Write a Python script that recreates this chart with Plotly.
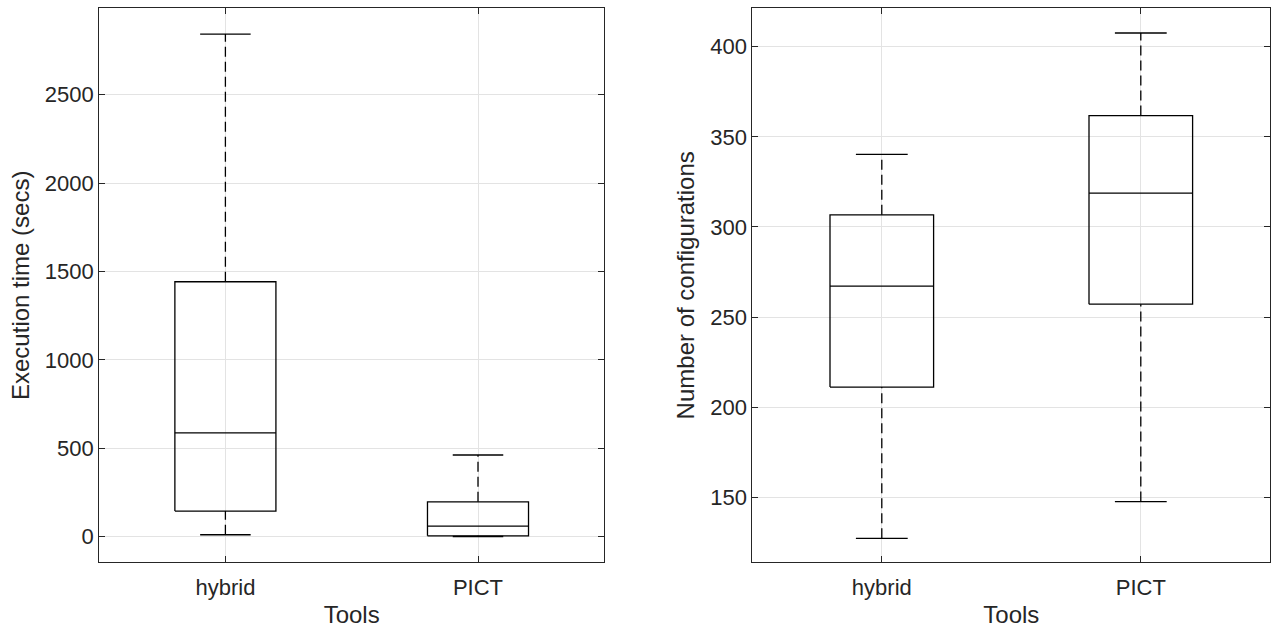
import plotly.graph_objects as go

# ---------------- data ----------------
tools = ["hybrid", "PICT"]

# Execution time (secs)
exec_lower = [11, 1]
exec_q1 = [145, 5]
exec_median = [587, 60]
exec_q3 = [1442, 197]
exec_upper = [2843, 462]

# Number of configurations
conf_lower = [127.2, 147.6]
conf_q1 = [211.1, 257.1]
conf_median = [267.1, 318.8]
conf_q3 = [306.7, 361.8]
conf_upper = [340.2, 407.6]

exec_ticks = [0, 500, 1000, 1500, 2000, 2500]
conf_ticks = [150, 200, 250, 300, 350, 400]

# ---------------- style ----------------
FONT = "Liberation Sans, Arial, Helvetica, sans-serif"
AX = "#262626"
GRID = "#e3e3e3"
BOXC = "#000000"
HALF_BOX = 0.2
HALF_CAP = 0.1
LW = 1.3
DASH = "10px,5px"

fig = go.Figure()


def add_boxes(lower, q1, med, q3, upper, xa, ya):
    for i in range(len(tools)):
        c = i + 1
        # whiskers (dashed)
        fig.add_trace(go.Scatter(x=[c, c], y=[q3[i], upper[i]], mode="lines",
                                 line=dict(color=BOXC, width=LW, dash=DASH),
                                 xaxis=xa, yaxis=ya, showlegend=False, hoverinfo="skip"))
        fig.add_trace(go.Scatter(x=[c, c], y=[lower[i], q1[i]], mode="lines",
                                 line=dict(color=BOXC, width=LW, dash=DASH),
                                 xaxis=xa, yaxis=ya, showlegend=False, hoverinfo="skip"))
        # caps
        for v in (upper[i], lower[i]):
            fig.add_trace(go.Scatter(x=[c - HALF_CAP, c + HALF_CAP], y=[v, v], mode="lines",
                                     line=dict(color=BOXC, width=LW),
                                     xaxis=xa, yaxis=ya, showlegend=False, hoverinfo="skip"))
        # box
        fig.add_trace(go.Scatter(x=[c - HALF_BOX, c + HALF_BOX, c + HALF_BOX, c - HALF_BOX, c - HALF_BOX],
                                 y=[q1[i], q1[i], q3[i], q3[i], q1[i]], mode="lines",
                                 line=dict(color=BOXC, width=LW),
                                 xaxis=xa, yaxis=ya, showlegend=False, hoverinfo="skip"))
        # median
        fig.add_trace(go.Scatter(x=[c - HALF_BOX, c + HALF_BOX], y=[med[i], med[i]], mode="lines",
                                 line=dict(color=BOXC, width=LW),
                                 xaxis=xa, yaxis=ya, showlegend=False, hoverinfo="skip"))


add_boxes(exec_lower, exec_q1, exec_median, exec_q3, exec_upper, "x", "y")
add_boxes(conf_lower, conf_q1, conf_median, conf_q3, conf_upper, "x2", "y2")

TICKF = dict(family=FONT, size=22, color=AX)
TITLEF = dict(family=FONT, size=24, color=AX)


def xaxis(domain, anchor):
    return dict(domain=domain, anchor=anchor, range=[0.5, 2.5],
                tickvals=[1, 2], ticktext=tools, tickfont=TICKF,
                ticklabelstandoff=5,
                title=dict(text="Tools", font=TITLEF, standoff=7),
                showline=True, linecolor=AX, linewidth=1, mirror="allticks",
                ticks="inside", ticklen=6, tickcolor=AX, tickwidth=1,
                showgrid=True, gridcolor=GRID, gridwidth=1, zeroline=False,
                fixedrange=True)


def yaxis(domain, anchor, rng, ticks, title):
    return dict(domain=domain, anchor=anchor, range=rng,
                tickvals=ticks, tickfont=TICKF,
                title=dict(text=title, font=TITLEF, standoff=8),
                showline=True, linecolor=AX, linewidth=1, mirror="allticks",
                ticks="inside", ticklen=6, tickcolor=AX, tickwidth=1,
                showgrid=True, gridcolor=GRID, gridwidth=1, zeroline=False,
                fixedrange=True)


W, H = 1271, 631
ydom = [1 - 562.3 / H, 1 - 8.3 / H]
fig.update_layout(
    width=W, height=H,
    margin=dict(l=0, r=0, t=0, b=0),
    paper_bgcolor="white", plot_bgcolor="white",
    font=dict(family=FONT, color=AX),
    showlegend=False,
    xaxis=xaxis([99.1 / W, 604.3 / W], "y"),
    yaxis=yaxis(ydom, "x", [-144.8, 2988.7], exec_ticks, "Execution time (secs)"),
    xaxis2=xaxis([752.3 / W, 1270.3 / W], "y2"),
    yaxis2=yaxis(ydom, "x2", [113.9, 421.3], conf_ticks, "Number of configurations"),
)

fig.write_html("out.html")
